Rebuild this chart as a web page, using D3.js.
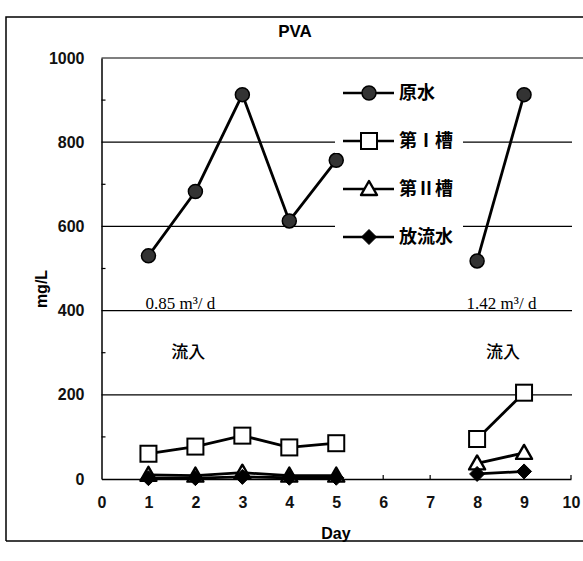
<!DOCTYPE html>
<html><head><meta charset="utf-8">
<script src="https://cdn.jsdelivr.net/npm/d3@7"></script>
<style>body{margin:0;background:#fff}</style>
</head><body>
<script>
const days = [1,2,3,4,5,8,9];
const seriesNames = ["原水","第Ⅰ槽","第Ⅱ槽","放流水"];
const raw   = [530,683,913,613,757,518,913];
const tank1 = [60,77,103,75,85,95,205];
const tank2 = [10,8,15,8,8,37,62];
const outflow = [2,2,5,3,3,12,18];
const yTicks = [0,200,400,600,800,1000];
const xTicks = [0,1,2,3,4,5,6,7,8,9,10];
const flowLabels = [{x:1.68,t:"0.85 m³/ d"},{x:8.52,t:"1.42 m³/ d"}];
const inflowLabels = [{x:1.85,t:"流入"},{x:8.55,t:"流入"}];

const W=583,H=561;
const svg=d3.select("body").append("svg").attr("width",W).attr("height",H);
const x=d3.scaleLinear([0,10],[101.5,571]);
const y=d3.scaleLinear([0,1000],[479,58]);
const font="'Liberation Sans', Arial, sans-serif";
const cjk="'Noto Sans CJK JP',sans-serif";

// outer frame
svg.append("path").attr("d",`M6,541V17H${W}`).attr("fill","none").attr("stroke","#000").attr("stroke-width",1.5);
svg.append("line").attr("x1",6).attr("x2",W).attr("y1",541).attr("y2",541).attr("stroke","#000").attr("stroke-width",1.5);

// gridlines
svg.append("g").selectAll("line").data(yTicks.filter(d=>d>0)).join("line")
  .attr("x1",x(0)).attr("x2",d=>d===1000?W:572).attr("y1",d=>y(d)).attr("y2",d=>y(d))
  .attr("stroke","#000").attr("stroke-width",1.2);

// y axis
const ya=svg.append("g").attr("transform",`translate(${x(0)},0)`)
  .call(d3.axisLeft(y).tickValues(yTicks).tickFormat(d3.format("d")).tickSize(0).tickPadding(17));
ya.select(".domain").attr("stroke-width",1.5);
ya.selectAll("text").attr("font-family",font).attr("font-size",16).attr("font-weight","bold").attr("fill","#111");
// minor ticks inside
svg.append("g").selectAll("line").data(d3.range(100,1000,200)).join("line")
  .attr("x1",x(0)).attr("x2",x(0)+4).attr("y1",d=>y(d)).attr("y2",d=>y(d)).attr("stroke","#000").attr("stroke-width",1.2);

// x axis
const xa=svg.append("g").attr("transform",`translate(0,${y(0)})`)
  .call(d3.axisBottom(x).tickValues(xTicks).tickSize(0).tickPadding(18));
xa.select(".domain").attr("stroke-width",1.5);
xa.selectAll("text").attr("font-family",font).attr("font-size",16).attr("font-weight","bold").attr("fill","#111");
svg.append("g").selectAll("line").data(xTicks.filter(d=>d>0)).join("line")
  .attr("x1",d=>x(d)).attr("x2",d=>x(d)).attr("y1",y(0)).attr("y2",y(0)-4).attr("stroke","#000").attr("stroke-width",1.2);

// titles
svg.append("text").attr("x",295).attr("y",37).attr("text-anchor","middle").attr("font-family",font)
  .attr("font-size",17).attr("font-weight","bold").text("PVA");
svg.append("text").attr("x",336).attr("y",539).attr("text-anchor","middle").attr("font-family",font)
  .attr("font-size",16).attr("font-weight","bold").text("Day");
svg.append("text").attr("transform","translate(47,289) rotate(-90)").attr("text-anchor","middle").attr("font-family",font)
  .attr("font-size",16).attr("font-weight","bold").text("mg/L");

// annotations
svg.append("g").selectAll("text").data(flowLabels).join("text")
  .attr("x",d=>x(d.x)).attr("y",y(400)-2).attr("text-anchor","middle")
  .attr("font-family","'Liberation Serif','DejaVu Serif',serif").attr("font-size",17).text(d=>d.t);
svg.append("g").selectAll("text").data(inflowLabels).join("text")
  .attr("x",d=>x(d.x)).attr("y",358).attr("text-anchor","middle")
  .attr("font-family",cjk).attr("font-size",17).attr("font-weight",500).text(d=>d.t);

// series
const segs=[[0,5],[5,7]];
const data=[raw,tank1,tank2,outflow];
const line=d3.line().x(d=>x(d[0])).y(d=>y(d[1]));
const marker=[
  (g)=>g.append("circle").attr("r",7).attr("fill","#333").attr("stroke","#000").attr("stroke-width",1.5),
  (g)=>g.append("rect").attr("x",-8).attr("y",-8).attr("width",16).attr("height",16).attr("fill","#fff").attr("stroke","#000").attr("stroke-width",2),
  (g)=>g.append("path").attr("d","M0,-8L8,6L-8,6Z").attr("fill","#fff").attr("stroke","#000").attr("stroke-width",2.4).attr("stroke-linejoin","round"),
  (g)=>g.append("path").attr("d","M0,-7.5L7.5,0L0,7.5L-7.5,0Z").attr("fill","#000").attr("stroke","#000").attr("stroke-width",1)
];
[3,2,1,0].forEach(si=>{
  const pts=days.map((d,i)=>[d,data[si][i]]);
  segs.forEach(([a,b])=>{
    svg.append("path").attr("d",line(pts.slice(a,b))).attr("fill","none").attr("stroke","#000").attr("stroke-width",2.8);
  });
});
[2,3,1,0].forEach(si=>{
  days.forEach((d,i)=>{
    const g=svg.append("g").attr("transform",`translate(${x(d)},${y(data[si][i])})`);
    marker[si](g);
  });
});

// legend
const legY=[93,141,189,237];
seriesNames.forEach((n,i)=>{
  const g=svg.append("g").attr("transform",`translate(0,${legY[i]})`);
  g.append("rect").attr("x",335).attr("y",-12).attr("width",128).attr("height",24).attr("fill","#fff");
  g.append("line").attr("x1",343).attr("x2",394).attr("stroke","#000").attr("stroke-width",2.6);
  const m=g.append("g").attr("transform","translate(369,0)");
  marker[i](m);
  g.append("text").attr("x",399).attr("y",6).attr("font-family",cjk)
    .attr("font-size",18).attr("font-weight","bold").text(n);
});
</script>
</body></html>
